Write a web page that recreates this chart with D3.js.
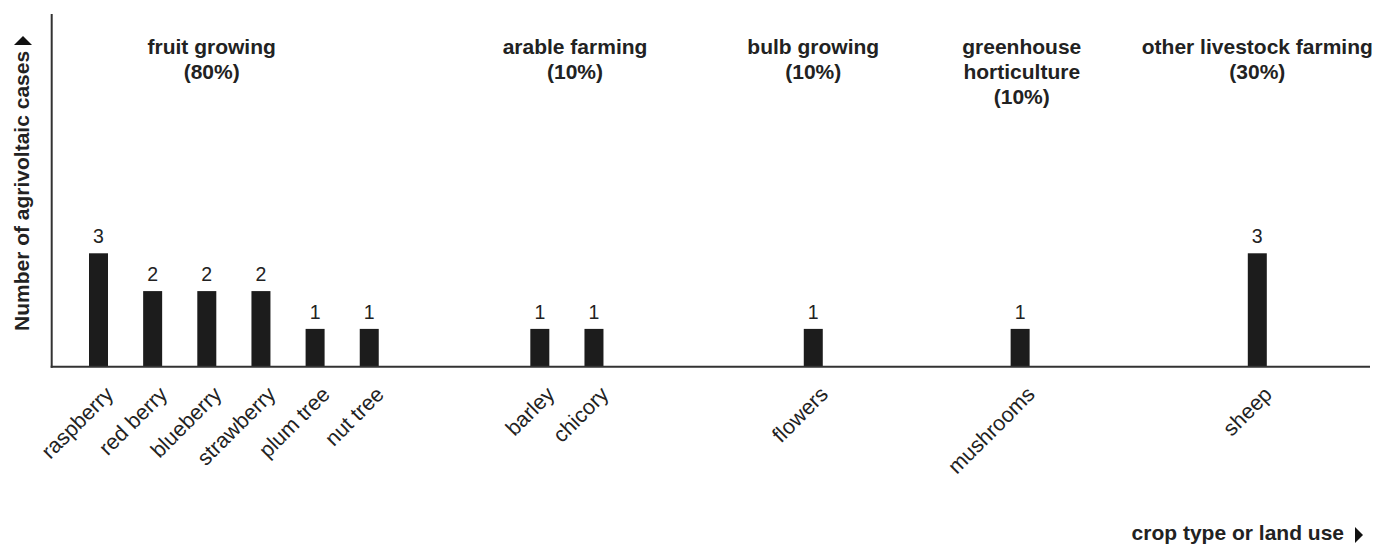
<!DOCTYPE html>
<html>
<head>
<meta charset="utf-8">
<script src="https://cdn.jsdelivr.net/npm/d3@7"></script>
<style>
  html, body { margin: 0; padding: 0; background: #fff; }
  svg { display: block; font-family: "Liberation Sans", Arial, Helvetica, sans-serif; }
</style>
</head>
<body>
<svg id="chart" width="1387" height="545"></svg>
<script>
// ---- data ----
const categories = ["raspberry", "red berry", "blueberry", "strawberry", "plum tree", "nut tree",
                    "barley", "chicory", "flowers", "mushrooms", "sheep"];
const cases = [3, 2, 2, 2, 1, 1, 1, 1, 1, 1, 3];
const groupTitles = [["fruit growing"], ["arable farming"], ["bulb growing"],
                     ["greenhouse", "horticulture"], ["other livestock farming"]];
const groupShares = ["(80%)", "(10%)", "(10%)", "(10%)", "(30%)"];
const groupSizes = [6, 2, 1, 1, 1];
const yAxisTitle = "Number of agrivoltaic cases";
const xAxisTitle = "crop type or land use";

// ---- layout (slot units along the category axis) ----
const slotPos = [0, 1, 2, 3, 4, 5, 8.15, 9.15, 13.2, 17.02, 21.4];
const titleSlot = [2.09, 8.8, 13.2, 17.05, 21.4];

const W = 1387, H = 545;
const axisX = 51.7, axisY = 366.7, axisTop = 14, axisRight = 1370;
const ink = "#222";
const barW = 19;

const svg = d3.select("#chart");

const x = d3.scaleLinear().domain([0, 21.4]).range([98.5, 1257.3]);
const y = d3.scaleLinear().domain([0, 9.33]).range([axisY, axisTop]);

const data = categories.map((c, i) => ({ cat: c, v: cases[i], pos: slotPos[i] }));

// bars
svg.append("g").selectAll("rect").data(data).join("rect")
  .attr("x", d => x(d.pos) - barW / 2)
  .attr("y", d => y(d.v))
  .attr("width", barW)
  .attr("height", d => y(0) - y(d.v))
  .attr("fill", "#1c1c1c");

// value labels
svg.append("g").selectAll("text").data(data).join("text")
  .attr("x", d => x(d.pos))
  .attr("y", d => y(d.v) - 10)
  .attr("text-anchor", "middle")
  .attr("font-size", 19.5)
  .attr("fill", ink)
  .text(d => d.v);

// axes lines
svg.append("line")
  .attr("x1", axisX).attr("x2", axisX)
  .attr("y1", axisTop).attr("y2", axisY + 1)
  .attr("stroke", "#333").attr("stroke-width", 2);
svg.append("line")
  .attr("x1", axisX - 1).attr("x2", axisRight)
  .attr("y1", axisY).attr("y2", axisY)
  .attr("stroke", "#333").attr("stroke-width", 2);

// category labels (rotated)
svg.append("g").selectAll("text").data(data).join("text")
  .attr("transform", d => `translate(${x(d.pos) + 16},${axisY + 29}) rotate(-45)`)
  .attr("text-anchor", "end")
  .attr("font-size", 21.5)
  .attr("fill", ink)
  .text(d => d.cat);

// group titles
const gt = svg.append("g").selectAll("text").data(groupTitles).join("text")
  .attr("text-anchor", "middle")
  .attr("font-size", 21)
  .attr("font-weight", "bold")
  .attr("fill", ink)
  .attr("x", (d, i) => x(titleSlot[i]))
  .attr("y", 53.5);
gt.each(function (d, i) {
  const t = d3.select(this);
  const lines = d.concat([groupShares[i]]);
  lines.forEach((ln, k) => {
    t.append("tspan").attr("x", x(titleSlot[i])).attr("dy", k === 0 ? 0 : 25).text(ln);
  });
});

// y axis title with arrow
const yt = svg.append("text")
  .attr("transform", `translate(28.5,331) rotate(-90)`)
  .attr("text-anchor", "start")
  .attr("font-size", 21)
  .attr("font-weight", "bold")
  .attr("fill", ink)
  .text(yAxisTitle);
const yLen = yt.node().getComputedTextLength();
const yEnd = 331 - yLen;
svg.append("path")
  .attr("d", `M14,${yEnd - 6} L32,${yEnd - 6} L23,${yEnd - 15} Z`)
  .attr("fill", "#111");

// x axis title with arrow
svg.append("text")
  .attr("x", 1344).attr("y", 540)
  .attr("text-anchor", "end")
  .attr("font-size", 21)
  .attr("font-weight", "bold")
  .attr("fill", ink)
  .text(xAxisTitle);
svg.append("path")
  .attr("d", `M1355,527 L1363,535 L1355,543 Z`)
  .attr("fill", "#111");
</script>
</body>
</html>
